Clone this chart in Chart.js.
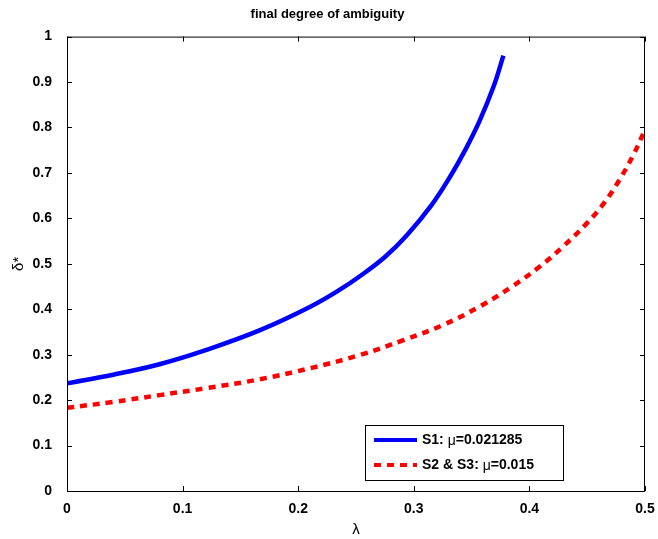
<html>
<head>
<script src="https://cdn.jsdelivr.net/npm/chart.js@4.4.1/dist/chart.umd.min.js"></script>
<style>
  body { margin: 0; background: #ffffff; }
  #wrap { width: 658px; height: 539px; }
</style>
</head>
<body>
<div id="wrap"><canvas id="chart"></canvas></div>
<script>
// lambda values and final delta* for each scenario
var s1Lambda = [0, 0.04, 0.08, 0.12, 0.167, 0.21, 0.236, 0.253, 0.275, 0.294, 0.315, 0.331, 0.345, 0.357, 0.369, 0.3775];
var s1Delta  = [0.237, 0.256, 0.279, 0.31, 0.354, 0.405, 0.443, 0.472, 0.515, 0.563, 0.628, 0.69, 0.753, 0.815, 0.89, 0.958];

var s23Lambda = [0, 0.04, 0.08, 0.12, 0.167, 0.21, 0.253, 0.291, 0.325, 0.357, 0.385, 0.409, 0.43, 0.45, 0.465, 0.478, 0.49, 0.5];
var s23Delta  = [0.183, 0.196, 0.211, 0.226, 0.246, 0.27, 0.299, 0.332, 0.365, 0.406, 0.45, 0.494, 0.54, 0.59, 0.635, 0.685, 0.74, 0.795];

var xTicks = [0, 0.1, 0.2, 0.3, 0.4, 0.5];
var yTicks = [0, 0.1, 0.2, 0.3, 0.4, 0.5, 0.6, 0.7, 0.8, 0.9, 1];

var legendLabels = [["S1: ", "=0.021285"], ["S2 & S3: ", "=0.015"]];

function toPoints(xs, ys) {
    var pts = [];
    for (var i = 0; i < xs.length; i++) pts.push({x: xs[i], y: ys[i]});
    return pts;
}

var FONT = '"Liberation Sans", Arial, sans-serif';

// box around the axes, inward ticks on all four sides and the legend
var boxPlugin = {
    id: 'matlabBox',
    afterDatasetsDraw: function(chart) {
        var ctx = chart.ctx, a = chart.chartArea;
        var xs = chart.scales.x, ys = chart.scales.y;
        ctx.save();
        ctx.strokeStyle = '#000';
        ctx.lineWidth = 1;
        ctx.setLineDash([]);
        ctx.strokeRect(a.left + 0.5, a.top + 0.5, a.right - a.left - 1, a.bottom - a.top);
        ctx.beginPath();
        xTicks.forEach(function(v) {
            var px = Math.round(xs.getPixelForValue(v)) + 0.5;
            ctx.moveTo(px, a.bottom); ctx.lineTo(px, a.bottom - 5);
            ctx.moveTo(px, a.top); ctx.lineTo(px, a.top + 5);
        });
        yTicks.forEach(function(v) {
            var py = Math.round(ys.getPixelForValue(v)) + 0.5;
            ctx.moveTo(a.left, py); ctx.lineTo(a.left + 5, py);
            ctx.moveTo(a.right, py); ctx.lineTo(a.right - 5, py);
        });
        ctx.stroke();

        // legend
        var lx = 365, ly = 425, lw = 198, lh = 55;
        ctx.fillStyle = '#fff';
        ctx.fillRect(lx, ly, lw, lh);
        ctx.strokeRect(lx + 0.5, ly + 0.5, lw, lh);
        var ds = chart.data.datasets;
        for (var i = 0; i < 2; i++) {
            var cy = ly + 15 + i * 25;
            ctx.beginPath();
            ctx.strokeStyle = ds[i].borderColor;
            ctx.lineWidth = 4;
            ctx.setLineDash(ds[i].borderDash || []);
            ctx.moveTo(lx + 9, cy); ctx.lineTo(lx + 52, cy);
            ctx.stroke();
            ctx.setLineDash([]);
            ctx.fillStyle = '#000';
            ctx.textBaseline = 'middle';
            ctx.font = 'bold 14px ' + FONT;
            var tx = lx + 57;
            ctx.fillText(legendLabels[i][0], tx, cy);
            tx += ctx.measureText(legendLabels[i][0]).width;
            ctx.font = '14px ' + FONT;
            ctx.fillText('\u03bc', tx, cy + 1);
            tx += ctx.measureText('\u03bc').width;
            ctx.font = 'bold 14px ' + FONT;
            ctx.fillText(legendLabels[i][1], tx, cy);
        }
        ctx.restore();
    }
};

new Chart(document.getElementById('chart'), {
    type: 'line',
    data: {
        datasets: [
            {
                label: 'S1',
                data: toPoints(s1Lambda, s1Delta),
                borderColor: '#0000ff',
                borderWidth: 4.5,
                pointRadius: 0,
                tension: 0.4
            },
            {
                label: 'S2 & S3',
                data: toPoints(s23Lambda, s23Delta),
                borderColor: '#ff0000',
                borderWidth: 4.5,
                borderDash: [7, 6],
                pointRadius: 0,
                tension: 0.4
            }
        ]
    },
    options: {
        responsive: true,
        maintainAspectRatio: false,
        animation: false,
        layout: { padding: { left: 10, right: 13, top: 0, bottom: 0 } },
        plugins: {
            legend: { display: false },
            tooltip: { enabled: false },
            title: {
                display: true,
                text: 'final degree of ambiguity',
                color: '#000',
                font: { family: FONT, size: 13, weight: 'bold' },
                padding: { top: 7, bottom: 14 }
            }
        },
        scales: {
            x: {
                type: 'linear',
                min: 0, max: 0.5,
                grid: { display: false },
                border: { display: false },
                afterBuildTicks: function(s) { s.ticks = xTicks.map(function(v) { return {value: v}; }); },
                afterFit: function(s) { s.height = 48; },
                ticks: {
                    color: '#000',
                    padding: 2,
                    maxRotation: 0,
                    callback: function(v) { return String(v); },
                    font: { family: FONT, size: 14, weight: 'bold' }
                },
                title: {
                    display: true,
                    text: '\u03bb',
                    color: '#000',
                    padding: { top: 2, bottom: 0 },
                    font: { family: FONT, size: 15 }
                }
            },
            y: {
                type: 'linear',
                min: 0, max: 1,
                grid: { display: false },
                border: { display: false },
                afterBuildTicks: function(s) { s.ticks = yTicks.map(function(v) { return {value: v}; }); },
                afterFit: function(s) { s.width = 57; },
                ticks: {
                    color: '#000',
                    padding: 7,
                    callback: function(v) { return String(v); },
                    font: { family: FONT, size: 14, weight: 'bold' }
                },
                title: {
                    display: true,
                    text: '\u03b4*',
                    color: '#000',
                    padding: { top: 0, bottom: 4 },
                    font: { family: FONT, size: 15 }
                }
            }
        }
    },
    plugins: [boxPlugin]
});
</script>
</body>
</html>
